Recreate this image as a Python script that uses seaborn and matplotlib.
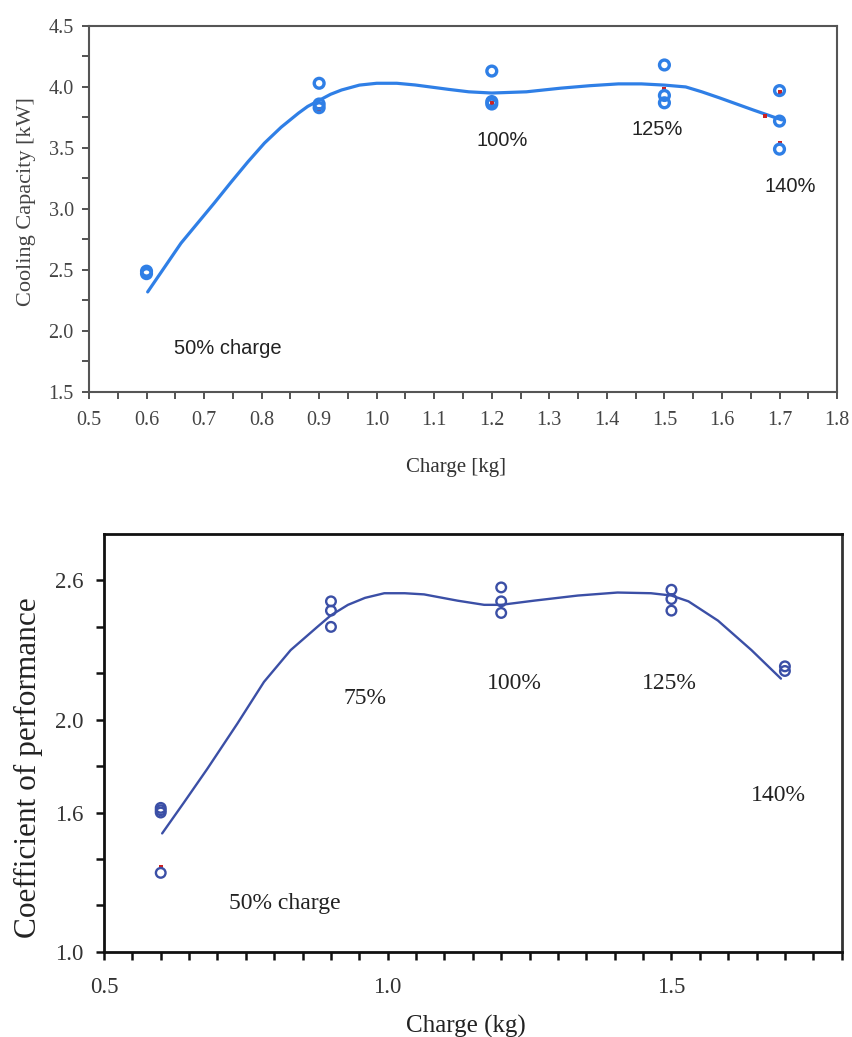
import numpy as np
import pandas as pd
import matplotlib
matplotlib.use("Agg")
import matplotlib.pyplot as plt
from matplotlib.ticker import MultipleLocator, FixedLocator, FormatStrFormatter
import seaborn as sns

# ---------------- data ----------------
# Top panel: cooling capacity
cap_x = [0.6, 0.6, 0.9, 0.9, 0.9, 1.2, 1.2, 1.2, 1.5, 1.5, 1.5, 1.7, 1.7, 1.7]
cap_y = [2.49, 2.47, 4.03, 3.86, 3.83, 4.13, 3.88, 3.86, 4.18, 3.93, 3.87, 3.97, 3.72, 3.49]
cap_red_x = [0.9, 1.2, 1.5, 1.7, 1.7, 1.675]
cap_red_y = [3.82, 3.87, 3.98, 3.955, 3.54, 3.76]
cap_curve_x = [0.602, 0.66, 0.718, 0.747, 0.776, 0.805, 0.834, 0.864, 0.88, 0.90, 0.92,
               0.939, 0.97, 1.00, 1.035, 1.067, 1.125, 1.16, 1.20, 1.26, 1.32, 1.37,
               1.42, 1.46, 1.50, 1.537, 1.565, 1.596, 1.655, 1.704]
cap_curve_y = [2.32, 2.72, 3.05, 3.22, 3.385, 3.54, 3.67, 3.785, 3.84, 3.89, 3.94,
               3.975, 4.015, 4.03, 4.03, 4.016, 3.98, 3.96, 3.95, 3.96, 3.99, 4.01,
               4.025, 4.025, 4.015, 4.00, 3.96, 3.91, 3.81, 3.73]
cap_labels = ["50% charge", "100%", "125%", "140%"]
cap_label_x = [0.741, 1.218, 1.487, 1.719]
cap_label_y = [1.858, 3.565, 3.65, 3.18]

# Bottom panel: coefficient of performance
cop_x = [0.6, 0.6, 0.6, 0.6, 0.9, 0.9, 0.9, 1.2, 1.2, 1.2, 1.5, 1.5, 1.5, 1.7, 1.7]
cop_y = [1.62, 1.61, 1.60, 1.34, 2.51, 2.47, 2.40, 2.57, 2.51, 2.46, 2.56, 2.52, 2.47, 2.23, 2.21]
cop_red_x = [0.6]
cop_red_y = [1.365]
cop_curve_x = [0.6025, 0.64, 0.682, 0.735, 0.782, 0.829, 0.876, 0.90, 0.93, 0.96, 0.994,
               1.03, 1.064, 1.123, 1.17, 1.20, 1.258, 1.335, 1.405, 1.464, 1.50, 1.53,
               1.582, 1.641, 1.693]
cop_curve_y = [1.51, 1.64, 1.788, 1.983, 2.163, 2.30, 2.40, 2.45, 2.495, 2.525, 2.545,
               2.545, 2.54, 2.513, 2.495, 2.495, 2.513, 2.535, 2.548, 2.545, 2.535, 2.51,
               2.427, 2.30, 2.177]
cop_labels = ["75%", "100%", "125%", "140%", "50% charge"]
cop_label_x = [0.96, 1.223, 1.496, 1.688, 0.818]
cop_label_y = [2.09, 2.156, 2.156, 1.672, 1.209]
cop_yticks = [1.0, 1.6, 2.0, 2.6]
cop_yminor = [1.2, 1.4, 1.8, 2.2, 2.4]

# ---------------- style ----------------
sns.set_theme(style="ticks")
plt.rcParams["font.family"] = ["Liberation Serif", "DejaVu Serif"]
SANS = ["Liberation Sans", "DejaVu Sans"]

TOP_BLUE = "#2f7fe6"
BOT_BLUE = "#3b4fa6"

fig = plt.figure(figsize=(8.53, 10.37), dpi=100)
ax1 = fig.add_axes([0.1043, 0.622, 0.877, 0.353])
ax2 = fig.add_axes([0.1219, 0.0822, 0.8648, 0.4028])

# ---------------- top panel ----------------
sns.lineplot(x=cap_curve_x, y=cap_curve_y, ax=ax1, color=TOP_BLUE, lw=2.3,
             sort=False, estimator=None)
sns.scatterplot(x=cap_red_x, y=cap_red_y, ax=ax1, color="#cc2222", marker="s",
                s=10, linewidth=0, zorder=3)
sns.scatterplot(x=cap_x, y=cap_y, ax=ax1, s=50, zorder=4)
coll = ax1.collections[-1]
coll.set_facecolor("none")
coll.set_edgecolor(TOP_BLUE)
coll.set_linewidth(2.4)

for t, x, y in zip(cap_labels, cap_label_x, cap_label_y):
    ax1.text(x, y, t, ha="center", va="center", fontsize=14.5, family=SANS, color="#222222")

ax1.set_xlim(0.5, 1.8)
ax1.set_ylim(1.5, 4.5)
ax1.xaxis.set_major_locator(MultipleLocator(0.1))
ax1.xaxis.set_minor_locator(MultipleLocator(0.05))
ax1.yaxis.set_major_locator(MultipleLocator(0.5))
ax1.yaxis.set_minor_locator(MultipleLocator(0.25))
ax1.xaxis.set_major_formatter(FormatStrFormatter("%.1f"))
ax1.yaxis.set_major_formatter(FormatStrFormatter("%.1f"))
ax1.tick_params(which="both", direction="out", length=5, width=1.3, color="#444444",
                labelsize=14.5, labelcolor="#444444")
ax1.tick_params(axis="x", pad=9)
ax1.tick_params(axis="y", pad=6)
for s in ax1.spines.values():
    s.set_color("#555555")
    s.set_linewidth(1.5)
    s.set_visible(True)
ax1.set_xlabel("Charge [kg]", fontsize=15, color="#333333")
ax1.set_ylabel("Cooling Capacity [kW]", fontsize=16, color="#444444")
ax1.xaxis.set_label_coords(0.49, -0.18)
ax1.yaxis.set_label_coords(-0.071, 0.52)

# ---------------- bottom panel ----------------
sns.lineplot(x=cop_curve_x, y=cop_curve_y, ax=ax2, color=BOT_BLUE, lw=1.7,
             sort=False, estimator=None)
sns.scatterplot(x=cop_red_x, y=cop_red_y, ax=ax2, color="#cc2222", marker="s",
                s=8, linewidth=0, zorder=3)
sns.scatterplot(x=cop_x, y=cop_y, ax=ax2, s=48, zorder=4)
coll = ax2.collections[-1]
coll.set_facecolor("none")
coll.set_edgecolor(BOT_BLUE)
coll.set_linewidth(1.7)

for t, x, y in zip(cop_labels, cop_label_x, cop_label_y):
    ax2.text(x, y, t, ha="center", va="center", fontsize=17, color="#222222")

ax2.set_xlim(0.5, 1.8)
ax2.set_ylim(1.0, 2.8)
ax2.xaxis.set_major_locator(MultipleLocator(0.5))
ax2.xaxis.set_minor_locator(MultipleLocator(0.05))
ax2.yaxis.set_major_locator(FixedLocator(cop_yticks))
ax2.yaxis.set_minor_locator(FixedLocator(cop_yminor))
ax2.xaxis.set_major_formatter(FormatStrFormatter("%.1f"))
ax2.yaxis.set_major_formatter(FormatStrFormatter("%.1f"))
ax2.tick_params(which="both", direction="out", length=6, width=1.8, color="#111111",
                labelsize=16.5, labelcolor="#333333")
ax2.tick_params(axis="x", pad=12)
ax2.tick_params(axis="y", pad=9)
for s in ax2.spines.values():
    s.set_color("#111111")
    s.set_linewidth(2.0)
    s.set_visible(True)
ax2.spines["right"].set_color("#333333")
ax2.set_xlabel("Charge (kg)", fontsize=18, color="#222222")
ax2.set_ylabel("Coefficient of performance", fontsize=22.5, color="#222222")
ax2.xaxis.set_label_coords(0.49, -0.15)
ax2.yaxis.set_label_coords(-0.082, 0.44)

fig.savefig("out.png", dpi=100, facecolor="white")
